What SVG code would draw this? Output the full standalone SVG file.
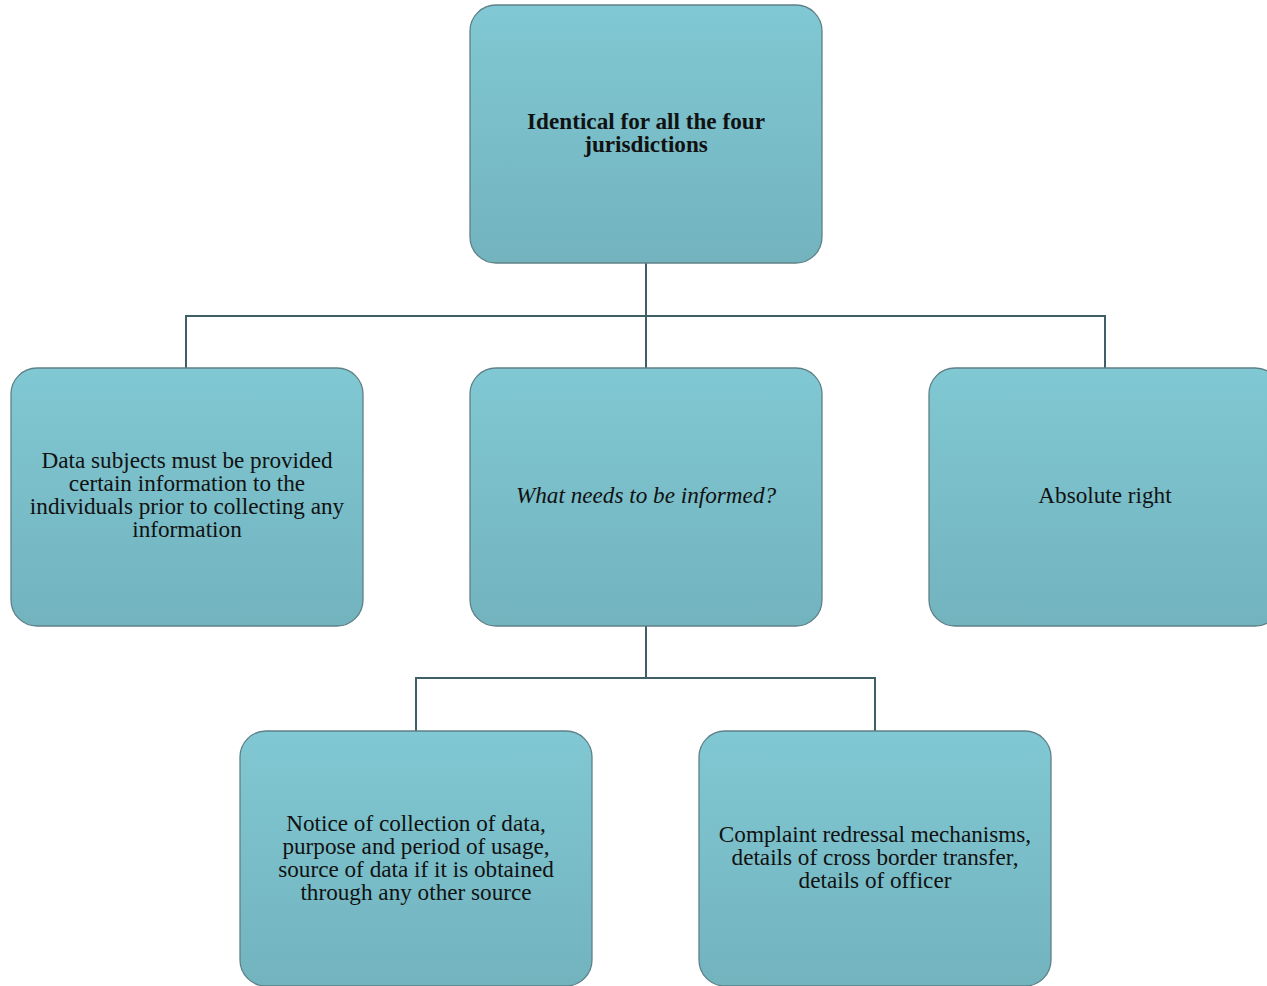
<svg xmlns="http://www.w3.org/2000/svg" width="1267" height="986" viewBox="0 0 1267 986">
<defs>
<linearGradient id="g" x1="0" y1="0" x2="0" y2="1">
<stop offset="0" stop-color="#80c8d3"/>
<stop offset="1" stop-color="#72b3be"/>
</linearGradient>
<style>
.box{fill:url(#g);stroke:#5f8088;stroke-width:1.3}
.t{font-family:"Liberation Serif","Times New Roman",serif;font-size:23.2px;fill:#111;text-anchor:middle}
.b{font-weight:bold}
.i{font-style:italic}
.c{fill:none;stroke:#3f5f66;stroke-width:2}
</style>
</defs>
<rect width="1267" height="986" fill="#fff"/>
<g id="connectors">
<path class="c" d="M646 263V316M186 368V316H1105V368M646 316V368"/>
<path class="c" d="M646 626V678M416 731V678H875V731"/>
</g>
<g id="n-top">
<rect class="box" x="470" y="5" width="352" height="258" rx="26"/>
<text class="t b" x="646" y="129">Identical for all the four</text>
<text class="t b" x="646" y="152">jurisdictions</text>
</g>
<g id="n-left">
<rect class="box" x="11" y="368" width="352" height="258" rx="26"/>
<text class="t" x="187" y="468">Data subjects must be provided</text>
<text class="t" x="187" y="491">certain information to the</text>
<text class="t" x="187" y="514">individuals prior to collecting any</text>
<text class="t" x="187" y="537">information</text>
</g>
<g id="n-mid">
<rect class="box" x="470" y="368" width="352" height="258" rx="26"/>
<text class="t i" x="646" y="503">What needs to be informed?</text>
</g>
<g id="n-right">
<rect class="box" x="929" y="368" width="352" height="258" rx="26"/>
<text class="t" x="1105" y="503">Absolute right</text>
</g>
<g id="n-bl">
<rect class="box" x="240" y="731" width="352" height="255" rx="26"/>
<text class="t" x="416" y="831">Notice of collection of data,</text>
<text class="t" x="416" y="854">purpose and period of usage,</text>
<text class="t" x="416" y="877">source of data if it is obtained</text>
<text class="t" x="416" y="900">through any other source</text>
</g>
<g id="n-br">
<rect class="box" x="699" y="731" width="352" height="255" rx="26"/>
<text class="t" x="875" y="842">Complaint redressal mechanisms,</text>
<text class="t" x="875" y="865">details of cross border transfer,</text>
<text class="t" x="875" y="888">details of officer</text>
</g>
</svg>
